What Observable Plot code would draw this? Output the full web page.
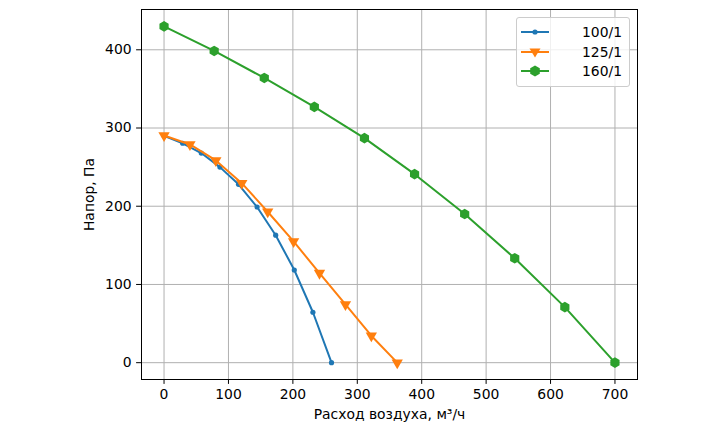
<!DOCTYPE html>
<html>
<head>
<meta charset="utf-8">
<script src="https://cdn.jsdelivr.net/npm/d3@7"></script>
<script src="https://cdn.jsdelivr.net/npm/@observablehq/plot@0.6"></script>
<style>
  html, body { margin: 0; padding: 0; background: #fff; }
  #wrap { position: relative; width: 720px; height: 432px; font-family: "DejaVu Sans", sans-serif; }
  #legend { position: absolute; left: 516px; top: 17px; width: 114px; height: 70px;
            border: 1px solid #cccccc; border-radius: 3px; background: rgba(255,255,255,0.8);
            box-sizing: border-box; font-size: 13.9px; color: #000; }
  .row { position: absolute; left: 4px; height: 20px; width: 106px; }
  .row svg { position: absolute; left: 0; top: 0; }
  .row span { position: absolute; right: 5px; top: 1px; line-height: 18px; }
</style>
</head>
<body>
<div id="wrap"></div>
<script>
// ---- data ----
const seriesNames = ["100/1", "125/1", "160/1"];
const seriesColors = ["#1f77b4", "#ff7f0e", "#2ca02c"];

const flow100  = [0, 28.9, 57.8, 86.7, 115.6, 144.4, 173.3, 202.2, 231.1, 260];
const press100 = [290, 280.5, 268, 250, 228, 199, 163, 118.5, 64.5, 0];

const flow125  = [0, 40.2, 80.4, 120.7, 160.9, 201.1, 241.3, 281.6, 321.8, 362];
const press125 = [290.5, 279, 258.5, 229.5, 193, 155, 114.5, 74.5, 34.5, 0];

const flow160  = [0, 77.8, 155.6, 233.3, 311.1, 388.9, 466.7, 544.4, 622.2, 700];
const press160 = [430, 398.5, 364, 327, 287, 241, 190, 133.5, 71, 0];

const xTicks = [0, 100, 200, 300, 400, 500, 600, 700];
const yTicks = [0, 100, 200, 300, 400];
const xLabel = "Расход воздуха, м³/ч";
const yLabel = "Напор, Па";

const mk = (xs, ys, name) => xs.map((x, i) => ({x, y: ys[i], name}));
const d100 = mk(flow100, press100, seriesNames[0]);
const d125 = mk(flow125, press125, seriesNames[1]);
const d160 = mk(flow160, press160, seriesNames[2]);

const fs = 13.9;
const chart = Plot.plot({
  width: 720,
  height: 432,
  marginLeft: 141,
  marginRight: 83,
  marginTop: 9,
  marginBottom: 53,
  style: {fontFamily: "DejaVu Sans, sans-serif", fontSize: fs + "px", background: "white", color: "black"},
  x: {domain: [-35, 735]},
  y: {domain: [-21.5, 451.5]},
  marks: [
    Plot.gridX(xTicks, {stroke: "#b0b0b0", strokeOpacity: 1, strokeWidth: 1}),
    Plot.gridY(yTicks, {stroke: "#b0b0b0", strokeOpacity: 1, strokeWidth: 1}),
    Plot.axisX(xTicks, {tickSize: 4.9, tickPadding: 5, fontSize: fs, label: xLabel, labelAnchor: "center", labelArrow: "none", labelOffset: 39, tickFormat: d => String(d)}),
    Plot.axisY(yTicks, {tickSize: 4.9, tickPadding: 5, fontSize: fs, label: yLabel, labelAnchor: "center", labelArrow: "none", labelOffset: 57, tickFormat: d => String(d)}),
    Plot.line(d100, {x: "x", y: "y", stroke: seriesColors[0], strokeWidth: 2}),
    Plot.dot(d100, {x: "x", y: "y", fill: seriesColors[0], r: 2.6, stroke: null}),
    Plot.line(d125, {x: "x", y: "y", stroke: seriesColors[1], strokeWidth: 2}),
    Plot.dot(d125, {x: "x", y: "y", fill: seriesColors[1], symbol: "triangle", r: 4.2, rotate: 180, stroke: null}),
    Plot.line(d160, {x: "x", y: "y", stroke: seriesColors[2], strokeWidth: 2}),
    Plot.dot(d160, {x: "x", y: "y", fill: seriesColors[2], symbol: "hexagon", r: 4.6, stroke: null}),
    Plot.frame({stroke: "black", strokeWidth: 1})
  ]
});

const wrap = document.getElementById("wrap");
wrap.appendChild(chart);

// legend
const legend = document.createElement("div");
legend.id = "legend";
const markerSvg = [
  '<circle cx="14" cy="0" r="2.6" fill="C"/>',
  '<path d="M8.5,-3.5 L19.5,-3.5 L14,5.5 Z" fill="C"/>',
  '<path d="M14,-5.5 L18.8,-2.75 L18.8,2.75 L14,5.5 L9.2,2.75 L9.2,-2.75 Z" fill="C"/>'
];
seriesNames.forEach((n, i) => {
  const row = document.createElement("div");
  row.className = "row";
  row.style.top = (4 + i * 19.5) + "px";
  const c = seriesColors[i];
  row.innerHTML = `<svg width="32" height="20"><g transform="translate(0,10)"><line x1="0" x2="28" y1="0" y2="0" stroke="${c}" stroke-width="2"/>${markerSvg[i].replace("C", c)}</g></svg><span>${n}</span>`;
  legend.appendChild(row);
});
wrap.appendChild(legend);
</script>
</body>
</html>
